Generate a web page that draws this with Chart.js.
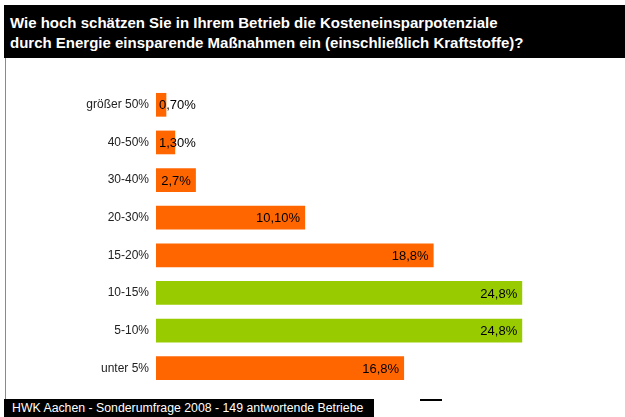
<!DOCTYPE html>
<html>
<head>
<meta charset="utf-8">
<script src="https://cdn.jsdelivr.net/npm/chart.js@4/dist/chart.umd.min.js"></script>
<style>
    html, body { margin: 0; padding: 0; background: #fff; }
    #wrap { position: relative; width: 625px; height: 417px; overflow: hidden; font-family: Arial, "Liberation Sans", sans-serif; }
    #chart { position: absolute; left: 0; top: 0; }
    #head {
        position: absolute; left: 4px; top: 5px; width: 621px; height: 53px;
        background: #000; color: #fff; font-weight: bold; font-size: 15px; line-height: 20px;
        padding: 8px 0 0 6px; box-sizing: border-box;
    }
    #edge { position: absolute; left: 5px; top: 58px; width: 1px; height: 341px; background: #8a8a8a; }
    #foot {
        position: absolute; left: 4px; top: 399px; width: 370px; height: 18px;
        background: #000; color: #fff; font-size: 12.3px; line-height: 18px;
        padding-left: 8px; box-sizing: border-box; white-space: nowrap;
    }
    #dash { position: absolute; left: 420px; top: 399px; width: 22px; height: 2px; background: #000; }
</style>
</head>
<body>
<div id="wrap">
    <canvas id="chart" width="625" height="417"></canvas>
    <div id="head">Wie hoch schätzen Sie in Ihrem Betrieb die Kosteneinsparpotenziale<br>durch Energie einsparende Maßnahmen ein (einschließlich Kraftstoffe)?</div>
    <div id="edge"></div>
    <div id="foot">HWK Aachen - Sonderumfrage 2008 - 149 antwortende Betriebe</div>
    <div id="dash"></div>
</div>
<script>
// Daten aus der Grafik
const categories = ['größer 50%', '40-50%', '30-40%', '20-30%', '15-20%', '10-15%', '5-10%', 'unter 5%'];
const values = [0.7, 1.3, 2.7, 10.1, 18.8, 24.8, 24.8, 16.8];
const valueLabels = ['0,70%', '1,30%', '2,7%', '10,10%', '18,8%', '24,8%', '24,8%', '16,8%'];
const highlighted = ['10-15%', '5-10%'];

const ORANGE = '#FF6600';
const GREEN = '#99CC00';
const barColors = categories.map(c => highlighted.includes(c) ? GREEN : ORANGE);

// Prozentwerte an die Balken schreiben
const valueLabelPlugin = {
    id: 'valueLabels',
    afterDatasetsDraw(chart) {
        const ctx = chart.ctx;
        const meta = chart.getDatasetMeta(0);
        ctx.save();
        ctx.font = '13px Arial, "Liberation Sans", sans-serif';
        ctx.fillStyle = '#000';
        ctx.textBaseline = 'middle';
        meta.data.forEach((bar, i) => {
            const text = valueLabels[i];
            const w = ctx.measureText(text).width;
            const barWidth = bar.x - bar.base;
            if (w + 8 <= barWidth) {
                ctx.textAlign = 'right';
                ctx.fillText(text, bar.x - 5, bar.y + 1);
            } else {
                ctx.textAlign = 'left';
                ctx.fillText(text, bar.base + 3, bar.y + 1);
            }
        });
        ctx.restore();
    }
};

new Chart(document.getElementById('chart'), {
    type: 'bar',
    data: {
        labels: categories,
        datasets: [{
            data: values,
            backgroundColor: barColors,
            borderWidth: 0,
            categoryPercentage: 1,
            barPercentage: 0.63
        }]
    },
    options: {
        indexAxis: 'y',
        responsive: false,
        animation: false,
        devicePixelRatio: 1,
        layout: {
            padding: { top: 86, bottom: 30, left: 0, right: 26 }
        },
        plugins: {
            legend: { display: false },
            tooltip: { enabled: false }
        },
        scales: {
            x: { display: false, min: 0, max: 30 },
            y: {
                grid: { display: false, drawTicks: false },
                border: { display: false },
                ticks: {
                    padding: 7,
                    color: '#222',
                    font: { family: 'Arial, "Liberation Sans", sans-serif', size: 12 }
                },
                afterFit(scale) {
                    scale.width = 156;
                }
            }
        }
    },
    plugins: [valueLabelPlugin]
});
</script>
</body>
</html>
